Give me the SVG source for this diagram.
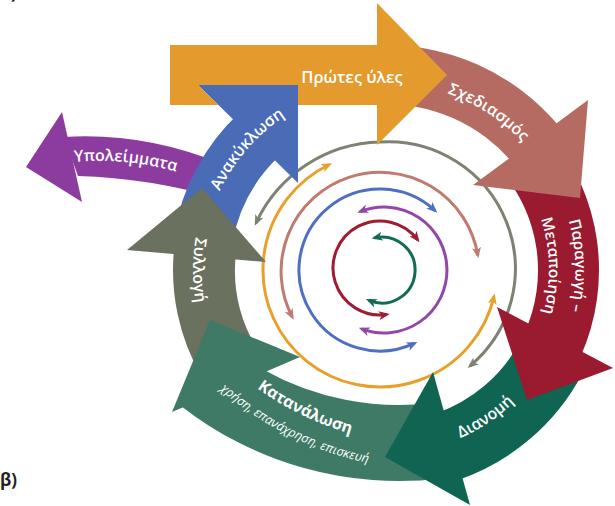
<svg xmlns="http://www.w3.org/2000/svg" width="615" height="506" viewBox="0 0 615 506">
  <style>
    .lbl { font-family: "Open Sans", "Noto Sans", "DejaVu Sans", sans-serif; font-weight: 600; fill: #ffffff; }
    .bold { font-weight: 700; }
    .sub { font-weight: 400; font-style: italic; }
    .tag { font-family: "Open Sans", "Noto Sans", "DejaVu Sans", sans-serif; font-weight: 700; fill: #231f20; }
    .ring { fill: none; stroke-width: 3; stroke-linecap: butt; }
  </style>
  <defs>
    <!-- small arrowheads for the inner cycles -->
    <marker id="m-gray" viewBox="0 0 11 10" refX="8" refY="5" markerWidth="11" markerHeight="10" markerUnits="userSpaceOnUse" orient="auto-start-reverse"><path d="M0,0.5 L11,5 L0,9.5 L3,5 Z" fill="#7d8273"/></marker>
    <marker id="m-orange" viewBox="0 0 11 10" refX="8" refY="5" markerWidth="11" markerHeight="10" markerUnits="userSpaceOnUse" orient="auto-start-reverse"><path d="M0,0.5 L11,5 L0,9.5 L3,5 Z" fill="#e9a02b"/></marker>
    <marker id="m-salmon" viewBox="0 0 11 10" refX="8" refY="5" markerWidth="11" markerHeight="10" markerUnits="userSpaceOnUse" orient="auto-start-reverse"><path d="M0,0.5 L11,5 L0,9.5 L3,5 Z" fill="#c07b71"/></marker>
    <marker id="m-blue" viewBox="0 0 11 10" refX="8" refY="5" markerWidth="11" markerHeight="10" markerUnits="userSpaceOnUse" orient="auto-start-reverse"><path d="M0,0.5 L11,5 L0,9.5 L3,5 Z" fill="#4f6fc3"/></marker>
    <marker id="m-purple" viewBox="0 0 11 10" refX="8" refY="5" markerWidth="11" markerHeight="10" markerUnits="userSpaceOnUse" orient="auto-start-reverse"><path d="M0,0.5 L11,5 L0,9.5 L3,5 Z" fill="#9447aa"/></marker>
    <marker id="m-red" viewBox="0 0 11 10" refX="8" refY="5" markerWidth="11" markerHeight="10" markerUnits="userSpaceOnUse" orient="auto-start-reverse"><path d="M0,0.5 L11,5 L0,9.5 L3,5 Z" fill="#9e1d33"/></marker>
    <marker id="m-green" viewBox="0 0 11 10" refX="8" refY="5" markerWidth="11" markerHeight="10" markerUnits="userSpaceOnUse" orient="auto-start-reverse"><path d="M0,0.5 L11,5 L0,9.5 L3,5 Z" fill="#136b55"/></marker>

    <!-- baselines for the curved labels -->
    <path id="p-sxed" d="M369.7,83.7 A187,187 0 0 1 562.8,209.1"/>
    <path id="p-para1" d="M531.5,149.1 A190,190 0 0 1 537.7,384.3"/>
    <path id="p-para2" d="M510.9,165.2 A163,163 0 0 1 516.2,368.1"/>
    <path id="p-dian" d="M417.9,451.2 A184,184 0 0 0 542,367.5"/>
    <path id="p-kat1" d="M194.9,328.4 A306,306 0 0 0 436,446"/>
    <path id="p-kat2" d="M174.5,341.3 A330,330 0 0 0 433.7,470"/>
    <path id="p-syl" d="M227.9,159.3 A193,193 0 0 0 227.9,380.7"/>
    <path id="p-anak" d="M202.7,254 A184,184 0 0 1 344.6,90.7"/>
    <path id="p-ypol" d="M60,164 Q124,154 190,176"/>
  </defs>

  <rect width="615" height="506" fill="#ffffff"/>

  <!-- inner cycles -->
  <g id="connectors">
    <path class="ring" stroke="#7d8273" d="M256,223 A140,140 0 0 1 380,142 A127,127 0 0 1 470,366" marker-start="url(#m-gray)" marker-end="url(#m-gray)"/>
    <path class="ring" stroke="#e9a02b" d="M494,296.3 A117,117 0 1 1 329.4,164.5" marker-start="url(#m-orange)" marker-end="url(#m-orange)"/>
    <path class="ring" stroke="#c07b71" d="M292.3,317 A99,99 0 1 1 477.8,255.3" marker-start="url(#m-salmon)" marker-end="url(#m-salmon)"/>
    <path class="ring" stroke="#4f6fc3" d="M414.7,343.2 A81,81 0 1 1 435.1,210.7" marker-start="url(#m-blue)" marker-end="url(#m-blue)"/>
    <path class="ring" stroke="#9447aa" d="M360.1,211.7 A63,63 0 1 1 361.6,328.9" marker-start="url(#m-purple)" marker-end="url(#m-purple)"/>
    <path class="ring" stroke="#9e1d33" d="M386.8,314.5 A47,47 0 1 1 417.7,239.9" marker-start="url(#m-red)" marker-end="url(#m-red)"/>
    <path class="ring" stroke="#136b55" d="M374.5,237.9 A33,33 0 1 1 368.7,300.2" marker-start="url(#m-green)" marker-end="url(#m-green)"/>
  </g>

  <!-- waste leaving the loop -->
  <g id="residues">
    <path fill="#8c3c9e" d="M64,137 Q144,132 222,164 L222,199 Q150,178 78,176 Z"/>
    <polygon fill="#8c3c9e" points="62,112 26,167 82,202"/>
    <text class="lbl" font-size="16"><textPath href="#p-ypol" startOffset="50%" text-anchor="middle">Υπολείμματα</textPath></text>
  </g>

  <!-- recycling -->
  <g id="recycling">
    <path fill="#4a6bb5" d="M174.3,232.7 A215,215 0 0 1 238,114 L278.6,156.8 A156,156 0 0 0 232.4,242.9 Z"/>
    <polygon fill="#4a6bb5" points="198,85 298,85 298,183"/>
    <text class="lbl" font-size="16"><textPath href="#p-anak" startOffset="50%" text-anchor="middle">Ανακύκλωση</textPath></text>
  </g>

  <!-- collection -->
  <g id="collection">
    <path fill="#6a715f" d="M201.5,376.5 A213,213 0 0 1 174.2,247.7 L235.8,254.2 A151,151 0 0 0 255.2,345.5 Z"/>
    <polygon fill="#6a715f" points="127,250 266,262 202,188"/>
    <text class="lbl" font-size="16"><textPath href="#p-syl" startOffset="50%" text-anchor="middle">Συλλογή</textPath></text>
  </g>

  <!-- consumption -->
  <g id="consumption">
    <path fill="#3e7a66" d="M442.1,478.4 A354,354 0 0 1 180.3,405.4 L263.1,369.5 A278,278 0 0 0 432.9,402.9 Z"/>
    <polygon fill="#3e7a66" points="172,412 300,357 210,320"/>
    <text class="lbl bold" font-size="16"><textPath href="#p-kat1" startOffset="50%" text-anchor="middle">Κατανάλωση</textPath></text>
    <text class="lbl sub" font-size="12.5"><textPath href="#p-kat2" startOffset="50%" text-anchor="middle">χρήση, επανάχρηση, επισκευή</textPath></text>
  </g>

  <!-- distribution -->
  <g id="distribution">
    <path fill="#0f6552" d="M582,374.2 A222,222 0 0 1 458.3,479.9 L435.5,413.7 A152,152 0 0 0 520.2,341.4 Z"/>
    <polygon fill="#0f6552" points="433,372 470,505 385,457"/>
    <text class="lbl" font-size="16"><textPath href="#p-dian" startOffset="50%" text-anchor="middle">Διανομή</textPath></text>
  </g>

  <!-- production / processing -->
  <g id="production">
    <path fill="#9a1a2f" d="M549.2,133.1 A213,213 0 0 1 580.6,356.6 L524.9,331.8 A152,152 0 0 0 502.4,172.3 Z"/>
    <polygon fill="#9a1a2f" points="497,307 613,368 527,400"/>
    <text class="lbl" font-size="15.5"><textPath href="#p-para1" startOffset="50%" text-anchor="middle">Παραγωγή –</textPath></text>
    <text class="lbl" font-size="15.5"><textPath href="#p-para2" startOffset="50%" text-anchor="middle">Μεταποίηση</textPath></text>
  </g>

  <!-- design -->
  <g id="design">
    <path fill="#b66b62" d="M374.2,45.3 A225,225 0 0 1 559.4,126.6 L513.9,164.2 A166,166 0 0 0 377.3,104.2 Z"/>
    <polygon fill="#b66b62" points="473,185 588,100 580,198"/>
    <text class="lbl" font-size="16"><textPath href="#p-sxed" startOffset="50%" text-anchor="middle">Σχεδιασμός</textPath></text>
  </g>

  <!-- raw materials (shaft leaves room for the recycling head) -->
  <g id="raw-materials">
    <polygon fill="#e49a2d" points="170,45 380,45 380,105 298,105 298,85 198,85 218.4,105 170,105"/>
    <polygon fill="#e49a2d" points="377,3 447,75 377,145"/>
    <text class="lbl" x="352" y="83" font-size="16.5" text-anchor="middle">Πρώτες ύλες</text>
  </g>

  <!-- panel tags -->
  <text class="tag" x="0" y="-1" font-size="17">α)</text>
  <text class="tag" x="0" y="486" font-size="17">β)</text>
</svg>
